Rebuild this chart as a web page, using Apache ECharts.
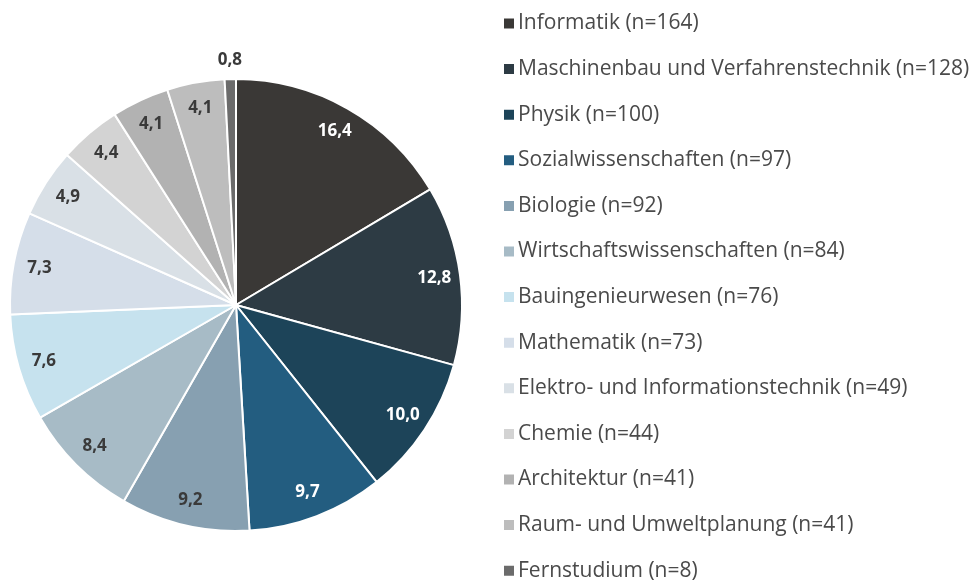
<!DOCTYPE html>
<html>
<head>
<meta charset="utf-8">
<script src="https://cdn.jsdelivr.net/npm/echarts@6/dist/echarts.min.js"></script>
<style>html,body{margin:0;padding:0;background:#fff}#c{width:979px;height:582px}</style>
</head>
<body>
<div id="c"></div>
<script>
const categories = ["Informatik","Maschinenbau und Verfahrenstechnik","Physik","Sozialwissenschaften","Biologie","Wirtschaftswissenschaften","Bauingenieurwesen","Mathematik","Elektro- und Informationstechnik","Chemie","Architektur","Raum- und Umweltplanung","Fernstudium"];
const counts = [164,128,100,97,92,84,76,73,49,44,41,41,8];
const percents = ["16,4","12,8","10,0","9,7","9,2","8,4","7,6","7,3","4,9","4,4","4,1","4,1","0,8"];
const colors = ["#3a3836","#2d3b44","#1d4459","#235d80","#87a0b1","#a7bbc6","#c6e2ee","#d5dee9","#d9e0e6","#d3d3d3","#b2b2b2","#bdbdbd","#6b6b6b"];
const labelColors = ["#fff","#fff","#fff","#fff","#3a3a3a","#3a3a3a","#3a3a3a","#3a3a3a","#3a3a3a","#3a3a3a","#3a3a3a","#3a3a3a","#3a3a3a"];
const outsideLabel = [false,false,false,false,false,false,false,false,false,false,false,false,true];

const legendNames = categories.map((c,i)=>c+" (n="+counts[i]+")");
const chart = echarts.init(document.getElementById('c'));
const FONT = 'Open Sans';
const labelBase = {fontFamily:FONT, fontSize:17, fontWeight:700};
chart.setOption({
  animation:false,
  color: colors,
  legend:{
    orient:'vertical', left:497, top:8, height:580,
    itemWidth:12, itemHeight:12, itemGap:24.6, icon:'rect',
    textStyle:{fontFamily:FONT, fontSize:21, color:'#4a4a4a', lineHeight:20, padding:[0,0,0,-2]},
    data: legendNames
  },
  series:[
    {
      type:'pie', center:[236,305], radius:[0,226], startAngle:90, clockwise:true,
      label:{show:false}, labelLine:{show:false},
      itemStyle:{borderColor:'#fff', borderWidth:2},
      emphasis:{disabled:true},
      data: legendNames.map((n,i)=>({name:n, value:counts[i], itemStyle:{color:colors[i]}}))
    },
    {
      type:'pie', center:[236,305], radius:[168,226], startAngle:90, clockwise:true,
      silent:true, legendHoverLink:false,
      itemStyle:{color:'rgba(0,0,0,0)', borderWidth:0},
      emphasis:{disabled:true},
      label:Object.assign({show:true, position:'inside', formatter:(p)=>percents[p.dataIndex]}, labelBase),
      labelLine:{show:false},
      data: legendNames.map((n,i)=>({name:n, value:counts[i], label:{show:!outsideLabel[i], color:labelColors[i]}}))
    },
    {
      type:'pie', center:[236,305], radius:[230,254], startAngle:90, clockwise:true,
      silent:true, legendHoverLink:false,
      itemStyle:{color:'rgba(0,0,0,0)', borderWidth:0},
      emphasis:{disabled:true},
      label:Object.assign({show:true, position:'inside', formatter:(p)=>percents[p.dataIndex]}, labelBase),
      labelLine:{show:false},
      data: legendNames.map((n,i)=>({name:n, value:counts[i], label:{show:outsideLabel[i], color:labelColors[i]}}))
    }
  ]
});
</script>
</body>
</html>
